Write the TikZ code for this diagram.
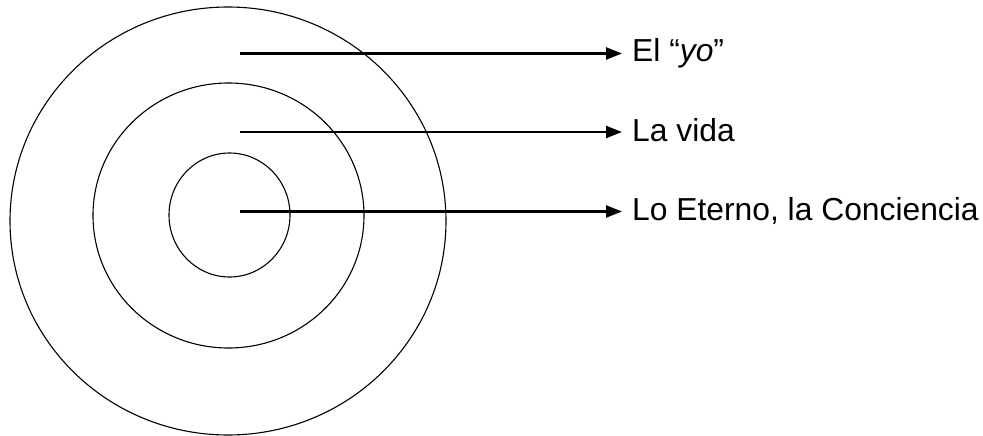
\documentclass[tikz,border=0pt]{standalone}
\usepackage{fontspec}
\setmainfont{Liberation Sans}
\usetikzlibrary{arrows.meta}
\definecolor{ink}{HTML}{000000}

\begin{document}
\begin{tikzpicture}[x=1pt,y=-1pt,
    ring/.style={ink,line width=1.1pt},
    pointer/.style={-{Triangle[length=16pt,width=12pt]},ink,line width=2.4pt},
    lbl/.style={ink,font=\fontsize{31.8}{38}\selectfont,anchor=base west,inner xsep=10pt,inner ysep=0pt}]
  \useasboundingbox (0,0) rectangle (983,436);

  % three nested rings
  \draw[ring] (228,221) ellipse [x radius=218,y radius=214];
  \draw[ring] (228.5,215.5) ellipse [x radius=135.5,y radius=132.5];
  \draw[ring] (229.5,215) ellipse [x radius=60.5,y radius=62];

  % labels on the right
  \node[lbl] (yo) at (622,62) {El “\textit{yo}”};
  \node[lbl] (vida) at (622,141) {La vida};
  \node[lbl] (eterno) at (622,220.5) {Lo Eterno, la Conciencia};

  % pointers from inside the rings
  \coordinate (pyo) at (240,53.5);
  \coordinate (pvida) at (240,132);
  \coordinate (peterno) at (240,211.5);
  \draw[pointer] (pyo) -- (pyo -| yo.west);
  \draw[pointer] (pvida) -- (pvida -| vida.west);
  \draw[pointer] (peterno) -- (peterno -| eterno.west);
\end{tikzpicture}
\end{document}
